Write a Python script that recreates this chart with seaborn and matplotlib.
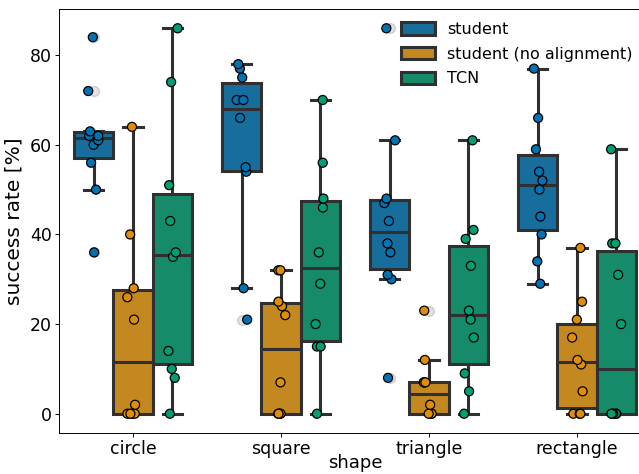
import numpy as np
import pandas as pd
import matplotlib
matplotlib.use("Agg")
import matplotlib.pyplot as plt
import seaborn as sns

shapes = ["circle", "square", "triangle", "rectangle"]
methods = ["student", "student (no alignment)", "TCN"]

# success rates [%] of the ten evaluation runs per shape and method
student = {
    "circle":    [36, 50, 56, 60, 61, 62, 62, 63, 72, 84],
    "square":    [21, 28, 54, 55, 66, 70, 70, 75, 77, 78],
    "triangle":  [8, 30, 31, 36, 38, 43, 47, 48, 61, 86],
    "rectangle": [29, 34, 40, 44, 50, 52, 54, 59, 66, 77],
}
student_no_alignment = {
    "circle":    [0, 0, 0, 0, 2, 21, 26, 28, 40, 64],
    "square":    [0, 0, 0, 0, 7, 22, 24, 25, 32, 32],
    "triangle":  [0, 0, 0, 0, 2, 7, 7, 7, 12, 23],
    "rectangle": [0, 0, 0, 5, 11, 12, 17, 21, 25, 37],
}
tcn = {
    "circle":    [0, 8, 10, 14, 35, 36, 43, 51, 74, 86],
    "square":    [0, 15, 15, 20, 29, 36, 46, 48, 56, 70],
    "triangle":  [0, 5, 9, 17, 21, 23, 33, 39, 41, 61],
    "rectangle": [0, 0, 0, 0, 0, 20, 31, 38, 38, 59],
}

rows = []
for method, table in zip(methods, [student, student_no_alignment, tcn]):
    for shape in shapes:
        for v in table[shape]:
            rows.append({"shape": shape, "method": method, "success rate [%]": v})
df = pd.DataFrame(rows)

np.random.seed(3)
plt.rcParams["font.family"] = ["DejaVu Sans"]
fig = plt.figure(figsize=(6.39, 4.74), dpi=100)
ax = fig.add_axes([59 / 639, 41 / 474, 592 / 639, 424 / 474])

pal = sns.color_palette("colorblind")
sns.boxplot(data=df, x="shape", y="success rate [%]", hue="method",
            order=shapes, hue_order=methods, palette=pal, ax=ax,
            linewidth=2.2, width=0.8,
            flierprops=dict(marker="o", markersize=7,
                            markerfacecolor="#c8c8c8", markeredgecolor="#aaaaaa",
                            alpha=0.5))
sns.stripplot(data=df, x="shape", y="success rate [%]", hue="method",
              order=shapes, hue_order=methods, palette=pal, ax=ax,
              dodge=True, jitter=0.12, size=6.5, linewidth=0.9,
              edgecolor="black", legend=False)

ax.set_ylim(-4.3, 90.3)
ax.set_xlim(-0.5, 3.5)
for side in ax.spines.values():
    side.set_linewidth(0.7)
ax.tick_params(labelsize=12.5, length=2.8, width=0.7, pad=2.5)
ax.set_yticks([0, 20, 40, 60, 80])
ax.set_xlabel("shape", fontsize=13, labelpad=-3)
ax.set_ylabel("success rate [%]", fontsize=14.5, labelpad=4)

leg = ax.legend(loc="upper left", bbox_to_anchor=((401 - 59) / 592, (433 - 22) / 424),
                frameon=False, borderpad=0, borderaxespad=0,
                fontsize=11.5, handlelength=2.1, handleheight=0.8,
                handletextpad=0.8, labelspacing=0.6)

fig.savefig("out.png", dpi=100)
